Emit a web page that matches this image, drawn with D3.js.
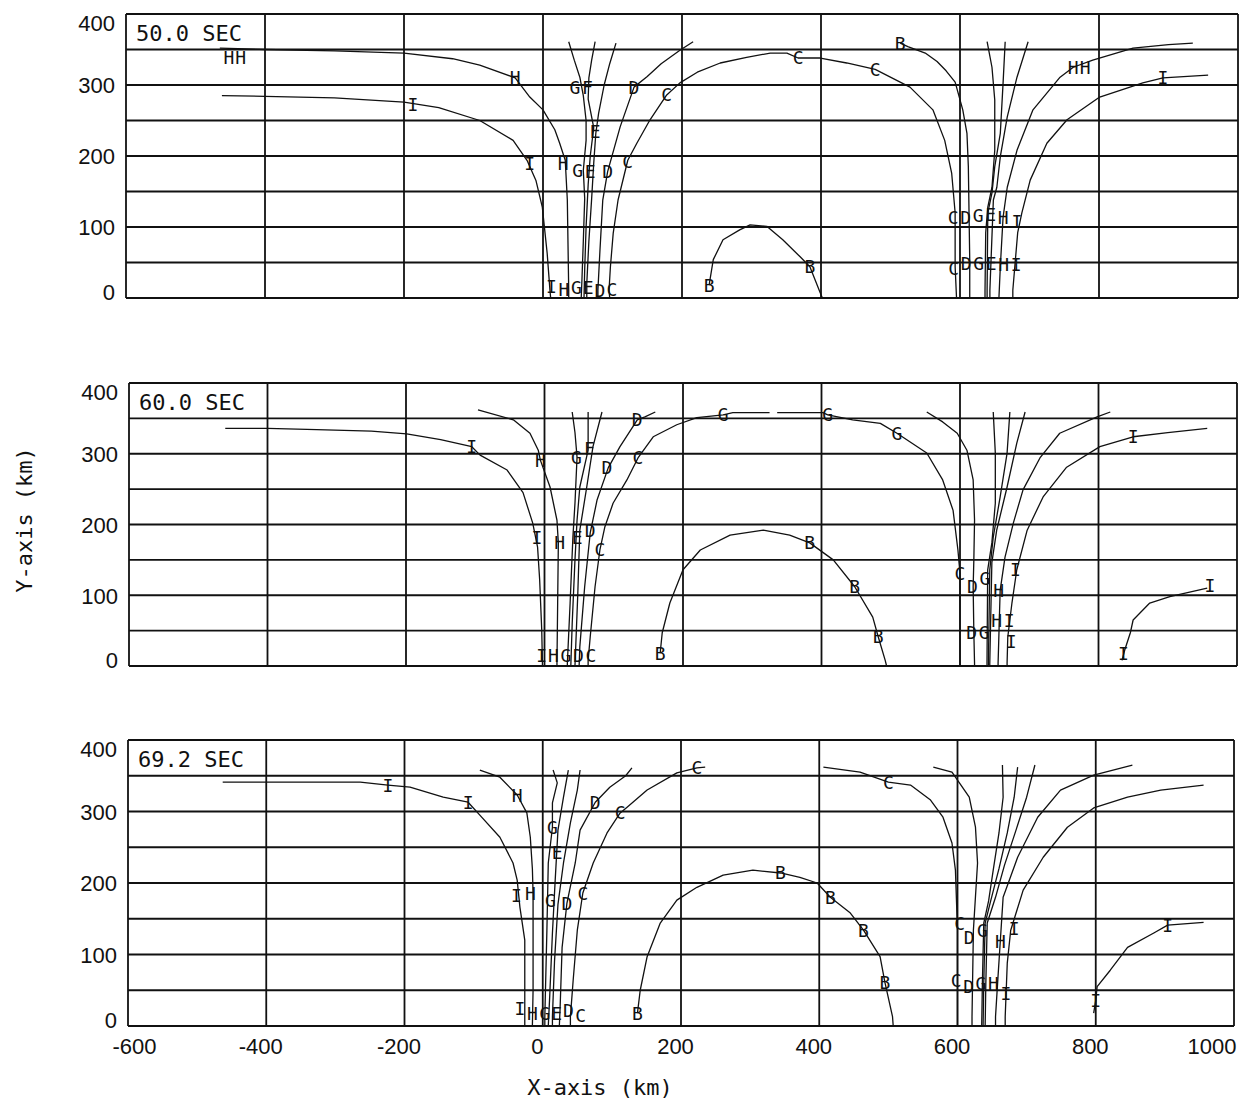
<!DOCTYPE html>
<html>
<head>
<meta charset="utf-8">
<script src="https://cdn.jsdelivr.net/npm/d3@7"></script>
<style>
  html, body { margin: 0; padding: 0; background: #fff; }
  svg { display: block; }
</style>
</head>
<body>
<svg id="chart" width="1245" height="1102"></svg>
<script>
// ---- axis ticks -------------------------------------------------------
const xTicks = [-600, -400, -200, 0, 200, 400, 600, 800, 1000];
const yTicks = [0, 100, 200, 300, 400];
const yGrid = [0, 50, 100, 150, 200, 250, 300, 350, 400];
const panelTimes = ["50.0 SEC", "60.0 SEC", "69.2 SEC"];

// ---- traces at t = 50.0 s  (x km, y km) --------------------------------
const curves50 = [
  [[-462,285],[-400,284],[-300,282],[-200,276],[-150,268],[-91,250],[-43,222],[-23,194],[-10,165],[-1,128],[6,63],[10,11],[11,0]],
  [[-465,352],[-400,350],[-300,348],[-200,345],[-130,337],[-91,328],[-40,310],[-19,283],[0,265],[17,237],[24,218],[32,194],[35,138],[37,11],[37,0]],
  [[37,361],[45,335],[53,311],[58,285],[62,250],[62,222],[58,180],[60,140],[58,80],[56,25],[55,0]],
  [[75,361],[70,335],[66,310],[65,280],[73,240],[68,200],[65,160],[62,100],[60,40],[59,0]],
  [[105,359],[96,330],[88,300],[80,260],[76,232],[73,190],[70,140],[66,80],[63,20],[63,0]],
  [[216,361],[197,349],[170,330],[150,312],[131,297],[111,241],[93,178],[86,138],[82,68],[79,11],[79,0]],
  [[96,0],[95,11],[97,44],[101,91],[108,138],[122,194],[135,218],[154,251],[178,286],[197,303],[222,318],[255,331],[293,339],[327,345],[351,345],[367,338],[399,338],[437,331],[478,322],[528,297],[561,265],[578,222],[588,176],[593,120],[593,44],[595,0]],
  [[239,18],[245,54],[259,82],[283,96],[298,103],[322,101],[345,82],[370,58],[384,44],[399,7],[402,0]],
  [[514,359],[525,354],[550,345],[567,333],[580,320],[593,304],[604,265],[610,232],[612,185],[613,120],[614,54],[614,0]],
  [[639,361],[646,325],[650,279],[650,208],[646,156],[640,128],[637,92],[636,11],[636,0]],
  [[665,361],[662,303],[658,232],[650,185],[646,148],[640,120],[639,11],[639,0]],
  [[698,361],[682,311],[668,255],[658,199],[653,156],[648,138],[643,11],[643,0]],
  [[935,359],[900,357],[849,352],[791,335],[763,325],[744,311],[705,265],[682,208],[668,156],[662,114],[658,44],[656,0]],
  [[957,314],[892,310],[863,303],[801,283],[754,251],[725,218],[701,166],[689,120],[683,92],[676,11],[676,0]]
];
const marks50 = [
  ["H",-452,339],["H",-435,339],["I",-187,272],["H",-40,310],["I",-19,190],["H",29,190],
  ["G",46,296],["F",64,296],["E",75,234],["G",50,180],["E",68,178],["D",93,178],["C",122,192],
  ["D",131,297],["C",178,286],["I",12,16],["H",30,12],["G",48,15],["E",65,15],["D",82,10],["C",99,12],
  ["C",367,339],["C",478,322],["B",514,359],["B",239,18],["B",384,44],
  ["C",590,114],["D",608,114],["G",626,116],["E",644,118],["H",662,114],["I",682,108],
  ["C",591,42],["D",609,49],["G",627,49],["E",645,49],["H",663,47],["I",681,47],
  ["H",763,325],["H",780,325],["I",892,310]
];

// ---- traces at t = 60.0 s ---------------------------------------------
const curves60 = [
  [[-461,336],[-400,336],[-329,334],[-250,332],[-199,328],[-150,320],[-105,310],[-93,298],[-54,277],[-31,245],[-17,202],[-10,168],[-7,122],[-4,51],[-3,4],[-3,0]],
  [[-96,362],[-45,348],[-21,329],[-9,305],[-6,291],[8,253],[18,206],[20,174],[19,89],[18,4],[18,0]],
  [[40,359],[44,330],[47,295],[44,230],[41,182],[37,89],[33,4],[33,0]],
  [[63,359],[63,330],[63,305],[51,253],[47,206],[44,150],[40,60],[38,0]],
  [[83,359],[70,310],[61,253],[51,192],[48,100],[44,0]],
  [[160,359],[145,352],[134,348],[109,310],[92,280],[76,235],[66,188],[58,112],[51,27],[50,0]],
  [[63,0],[63,8],[66,41],[73,112],[80,164],[87,196],[99,230],[119,263],[135,294],[157,324],[191,341],[220,351],[258,355],[272,358],[325,358]],
  [[336,358],[402,358],[409,355],[445,348],[485,343],[509,329],[552,301],[575,263],[590,220],[597,164],[600,131],[600,4],[600,0]],
  [[167,18],[170,47],[181,89],[200,136],[225,164],[268,185],[316,192],[354,185],[383,174],[417,150],[448,112],[474,69],[482,41],[492,8],[494,0]],
  [[552,359],[575,345],[596,329],[610,305],[619,263],[621,206],[620,150],[619,112],[620,47],[621,4],[621,0]],
  [[648,359],[651,301],[651,230],[646,174],[640,136],[639,4],[639,0]],
  [[672,359],[668,301],[658,239],[648,182],[643,136],[641,4],[641,0]],
  [[694,359],[682,315],[668,253],[653,192],[646,146],[643,4],[643,0]],
  [[817,359],[798,352],[744,329],[716,295],[691,249],[677,202],[665,154],[658,107],[655,4],[655,0]],
  [[957,336],[900,330],[850,324],[802,310],[754,281],[720,239],[697,192],[682,136],[675,89],[669,41],[668,4],[668,0]],
  [[957,110],[903,98],[874,89],[850,65],[846,47],[838,23],[834,8]]
];
const marks60 = [
  ["I",-105,310],["H",-6,291],["I",-11,182],["H",22,174],["G",46,295],["F",65,308],["D",90,281],
  ["C",135,294],["D",134,348],["E",47,182],["D",66,192],["C",80,164],
  ["I",-4,15],["H",13,15],["G",31,15],["D",49,15],["C",67,15],
  ["G",258,355],["G",409,355],["G",509,329],
  ["B",167,18],["B",383,174],["B",448,112],["B",482,41],
  ["C",600,131],["D",618,112],["G",636,124],["H",656,107],["I",680,136],
  ["D",617,47],["G",635,47],["H",653,64],["I",671,64],["I",674,34],
  ["I",850,324],["I",961,114],["I",836,18]
];

// ---- traces at t = 69.2 s ---------------------------------------------
const curves69 = [
  [[-463,341],[-400,341],[-300,341],[-264,341],[-224,337],[-192,334],[-144,320],[-108,313],[-91,295],[-62,264],[-43,228],[-37,204],[-33,166],[-26,120],[-26,50],[-26,6],[-26,0]],
  [[-91,358],[-62,348],[-37,323],[-23,298],[-18,264],[-15,220],[-14,186],[-14,120],[-14,50],[-15,0]],
  [[15,358],[21,340],[14,312],[14,278],[8,228],[6,134],[3,13],[3,0]],
  [[37,358],[30,320],[22,274],[18,204],[14,130],[10,40],[8,0]],
  [[54,358],[50,330],[40,284],[30,228],[22,170],[17,90],[14,13],[14,0]],
  [[129,361],[120,350],[97,334],[76,313],[54,274],[47,228],[35,172],[28,110],[25,22],[24,0]],
  [[40,0],[40,13],[44,64],[50,134],[58,186],[73,228],[93,270],[112,298],[122,306],[151,330],[194,354],[223,361],[235,362]],
  [[406,362],[459,355],[500,341],[532,337],[561,316],[579,292],[592,256],[597,218],[600,134],[600,13],[600,0]],
  [[137,18],[141,50],[151,97],[170,144],[194,176],[223,194],[261,211],[304,218],[344,214],[372,208],[397,200],[416,180],[445,158],[464,134],[488,97],[495,61],[506,13],[507,0]],
  [[565,362],[592,355],[617,320],[626,278],[629,228],[623,134],[621,13],[621,0]],
  [[665,365],[666,320],[660,270],[652,220],[645,175],[638,144],[636,60],[635,0]],
  [[687,362],[682,320],[672,270],[660,220],[648,175],[640,144],[638,60],[637,0]],
  [[712,365],[700,320],[685,275],[668,225],[655,180],[643,144],[641,60],[640,0]],
  [[853,365],[797,351],[749,330],[716,292],[687,236],[666,180],[662,120],[658,60],[655,13],[655,0]],
  [[956,337],[894,330],[846,320],[797,305],[759,278],[724,236],[695,190],[677,134],[672,88],[669,13],[669,0]],
  [[956,145],[904,141],[884,130],[846,110],[821,78],[802,55],[800,36],[797,18]]
];
const marks69 = [
  ["I",-224,337],["I",-108,313],["H",-37,323],["I",-38,183],["H",-18,186],["G",14,278],["E",21,242],
  ["G",11,176],["D",35,172],["C",58,186],["D",76,313],["C",112,298],["C",223,361],
  ["I",-33,25],["H",-15,18],["G",3,18],["E",20,18],["D",37,22],["C",55,15],
  ["B",137,18],["B",344,214],["B",416,180],["B",464,134],["B",495,61],["C",500,341],
  ["C",603,144],["D",617,124],["G",636,134],["H",662,118],["I",682,136],
  ["C",598,64],["D",616,55],["G",634,60],["H",652,60],["I",670,46],
  ["I",904,141],["I",800,36]
];

// ---- layout -----------------------------------------------------------
const panels = [
  { time: panelTimes[0], curves: curves50, marks: marks50, left: 126, right: 1238, top: 14,  bottom: 298 },
  { time: panelTimes[1], curves: curves60, marks: marks60, left: 129, right: 1237, top: 383, bottom: 666 },
  { time: panelTimes[2], curves: curves69, marks: marks69, left: 128, right: 1234, top: 740, bottom: 1026 }
];

const svg = d3.select("#chart");
svg.append("rect").attr("width", 1245).attr("height", 1102).attr("fill", "#fff");

const tickFont = "'Liberation Sans', Arial, sans-serif";
const monoFont = "'DejaVu Sans Mono', 'Liberation Mono', monospace";
const ink = "#111";

panels.forEach((p, i) => {
  const x = d3.scaleLinear().domain([-600, 1000]).range([p.left, p.right]);
  const y = d3.scaleLinear().domain([0, 400]).range([p.bottom, p.top]);
  const g = svg.append("g");

  // grid
  g.append("g").selectAll("line.h").data(yGrid).join("line")
    .attr("x1", x(-600)).attr("x2", x(1000))
    .attr("y1", d => y(d)).attr("y2", d => y(d))
    .attr("stroke", ink).attr("stroke-width", 1.8);
  g.append("g").selectAll("line.v").data(xTicks).join("line")
    .attr("x1", d => x(d)).attr("x2", d => x(d))
    .attr("y1", y(0)).attr("y2", y(400))
    .attr("stroke", ink).attr("stroke-width", 1.8);

  // y tick labels
  const yAxis = d3.axisLeft(y).tickValues(yTicks).tickSize(0).tickPadding(11).tickFormat(d3.format("d"));
  const ya = g.append("g").attr("transform", `translate(${p.left},0)`).call(yAxis);
  ya.select(".domain").remove();
  ya.selectAll("text")
    .attr("font-family", tickFont).attr("font-size", 22).attr("fill", ink)
    .attr("dy", d => d === 400 ? "0.75em" : d === 0 ? "0.05em" : "0.36em");

  // x tick labels on the bottom panel only
  if (i === panels.length - 1) {
    const xAxis = d3.axisBottom(x).tickValues(xTicks).tickSize(0).tickPadding(12)
      .tickFormat(d => String(d));
    const xa = g.append("g").attr("transform", `translate(0,${p.bottom})`).call(xAxis);
    xa.select(".domain").remove();
    xa.selectAll("text")
      .attr("font-family", tickFont).attr("font-size", 22).attr("fill", ink)
      .attr("text-anchor", d => d === 1000 ? "end" : "middle")
      .attr("dx", d => d === 1000 ? 2 : d === -600 ? 6 : -6);
  }

  // trace lines
  const line = d3.line().x(d => x(d[0])).y(d => y(d[1]));
  g.append("g").selectAll("path").data(p.curves).join("path")
    .attr("d", line).attr("fill", "none")
    .attr("stroke", ink).attr("stroke-width", 1.3).attr("stroke-linejoin", "round");

  // letter markers along the traces
  g.append("g").selectAll("text").data(p.marks).join("text")
    .attr("x", d => x(d[1])).attr("y", d => y(d[2]))
    .attr("text-anchor", "middle").attr("dominant-baseline", "central")
    .attr("font-family", monoFont)
    .attr("font-size", 18).attr("fill", ink)
    .text(d => d[0]);

  // time label in the upper-left cell
  g.append("text")
    .attr("x", p.left + 10).attr("y", p.top + 27)
    .attr("font-family", monoFont).attr("font-size", 22).attr("fill", ink)
    .text(p.time);
});

// axis titles
svg.append("text")
  .attr("x", 600).attr("y", 1095).attr("text-anchor", "middle")
  .attr("font-family", monoFont).attr("font-size", 22).attr("fill", ink)
  .text("X-axis (km)");
svg.append("text")
  .attr("transform", "translate(32,520) rotate(-90)").attr("text-anchor", "middle")
  .attr("font-family", monoFont).attr("font-size", 22).attr("fill", ink)
  .text("Y-axis (km)");
</script>
</body>
</html>
